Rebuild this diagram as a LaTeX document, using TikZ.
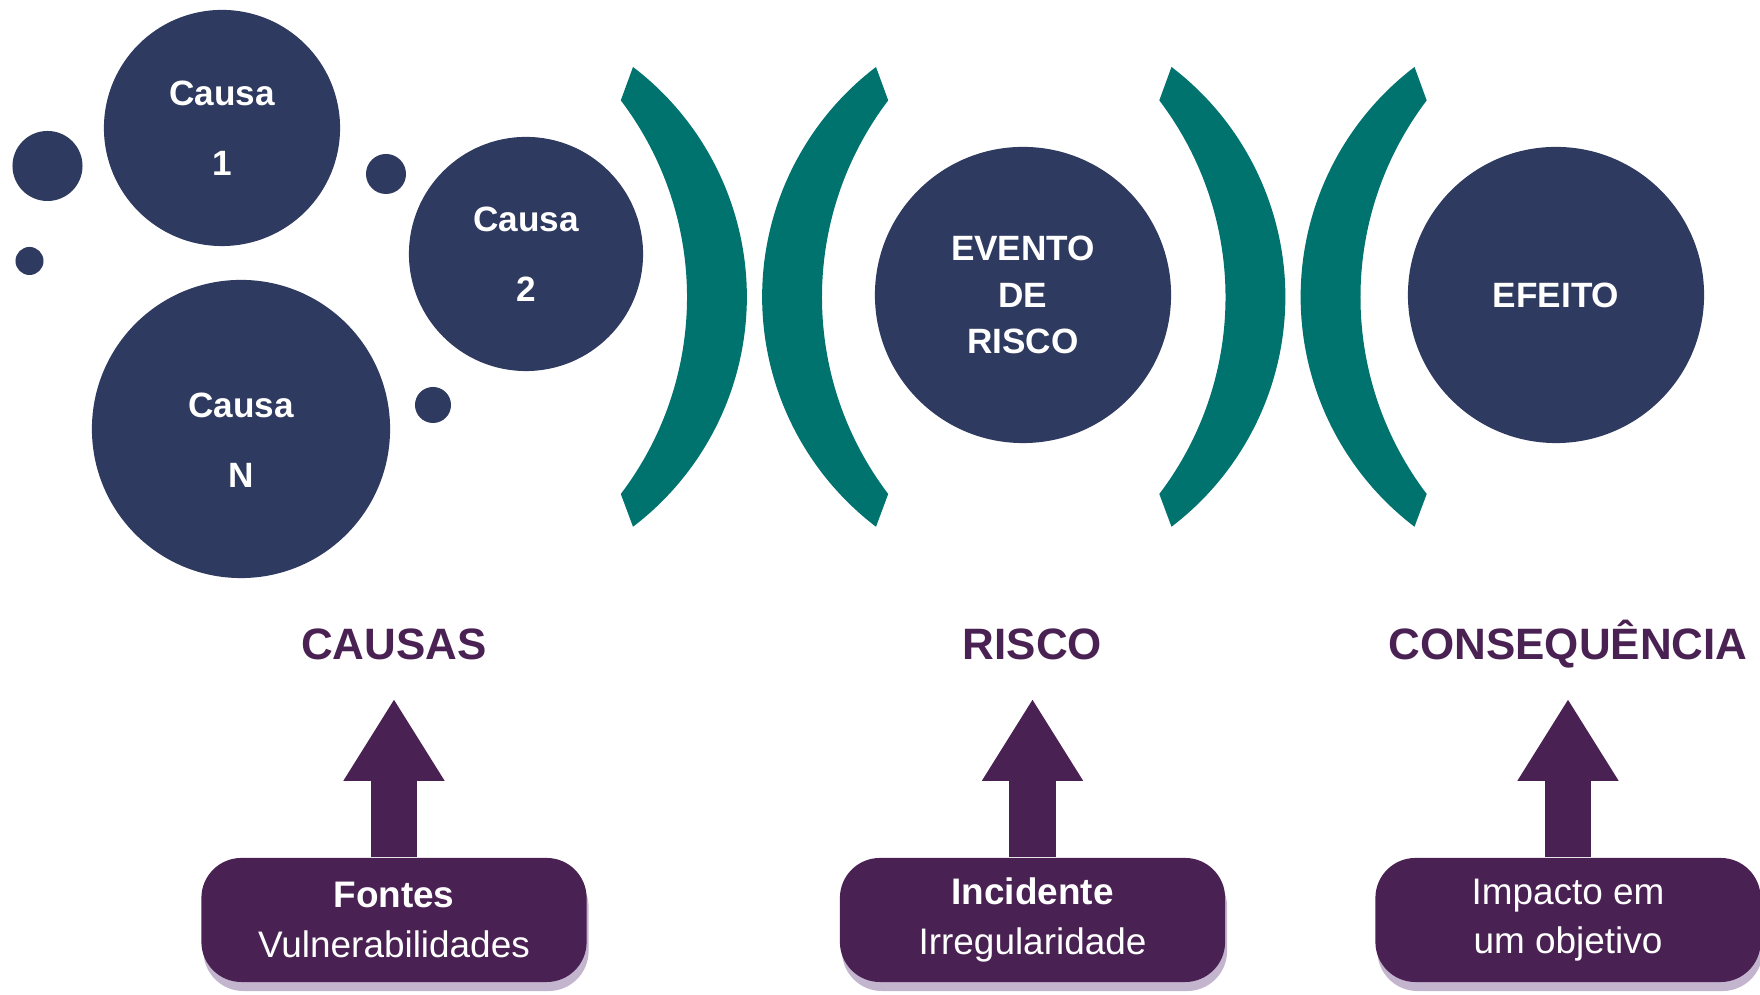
\documentclass[tikz,border=0pt]{standalone}
\usepackage{fontspec}
\setmainfont{Liberation Sans}
\usetikzlibrary{arrows.meta,shadows}

\definecolor{azul}{HTML}{2E3A5F}
\definecolor{verde}{HTML}{00736E}
\definecolor{roxo}{HTML}{4A2153}
\definecolor{sombra}{HTML}{C4B5CF}

\begin{document}
\begin{tikzpicture}[x=0.01cm,y=0.01cm,
    texto/.style={text=white,align=center,inner sep=0pt,
        font=\bfseries\fontsize{10}{20}\selectfont},
    bola/.style={circle,fill=azul,texto},
    ponto/.style={circle,fill=azul,inner sep=0pt},
    titulo/.style={text=roxo,anchor=base,inner sep=0pt,text depth=0pt,
        font=\bfseries\fontsize{12.5}{15}\selectfont},
    caixa/.style={rectangle,rounded corners=0.4cm,fill=roxo,text=white,align=center,
        minimum width=3.85cm,minimum height=1.24cm,font=\fontsize{10.5}{14}\selectfont,
        drop shadow={shadow xshift=0.02cm,shadow yshift=-0.09cm,fill=sombra,opacity=1}},
    seta/.style={draw=roxo,line width=0.46cm,shorten >=0.38cm,
        -{Triangle[length=0.82cm,width=0.95cm]}}]

  \useasboundingbox (0,0) rectangle (1760,995);

  % causas
  \node[bola,minimum size=2.36cm] (c1) at (222,867) {Causa\\1};
  \node[bola,minimum size=2.34cm] (c2) at (526,741) {Causa\\2};
  \node[bola,minimum size=2.98cm,label={[texto,yshift=-0.11cm]center:Causa\\N}]
      (cN) at (241,566) {};
  \node[ponto,minimum size=0.70cm] (p1) at (47.5,829) {};
  \node[ponto,minimum size=0.28cm] (p2) at (29.5,734) {};
  \node[ponto,minimum size=0.40cm] (p3) at (386,821) {};
  \node[ponto,minimum size=0.36cm] (p4) at (433,590) {};

  % evento e efeito
  \node[bola,minimum size=2.96cm,font=\bfseries\fontsize{10}{13.3}\selectfont]
      (evento) at (1023,700) {EVENTO\\DE\\RISCO};
  \node[bola,minimum size=2.96cm] (efeito) at (1556,700) {EFEITO};

  % parenteses )( entre os blocos
  \foreach \cx in {754.5,1293} {
    \fill[verde] ({\cx-121.5},928) arc[start angle=52.7,end angle=-52.7,radius=289]
      -- ({\cx-133.7},501) arc[start angle=-37.2,end angle=37.2,radius=325.5] -- cycle;
    \fill[verde] ({\cx+121.5},928) arc[start angle=127.3,end angle=232.7,radius=289]
      -- ({\cx+133.7},501) arc[start angle=217.2,end angle=142.8,radius=325.5] -- cycle;
  }

  % titulos
  \node[titulo] (causas) at (394,335) {CAUSAS};
  \node[titulo] (risco) at (1032.5,335) {RISCO};
  \node[titulo] (conseq) at (1568,335) {CONSEQUÊNCIA};

  % caixas de baixo
  \node[caixa] (fontes) at (394,75) {\textbf{Fontes}\\Vulnerabilidades};
  \node[caixa] (incid) at (1032.5,75) {\textbf{Incidente}\\Irregularidade};
  \node[caixa] (impacto) at (1568,75) {Impacto em\\um objetivo};

  \draw[seta] (fontes.north) -- (causas.south);
  \draw[seta] (incid.north) -- (risco.south);
  \draw[seta] (impacto.north) -- (conseq.south);
\end{tikzpicture}
\end{document}
